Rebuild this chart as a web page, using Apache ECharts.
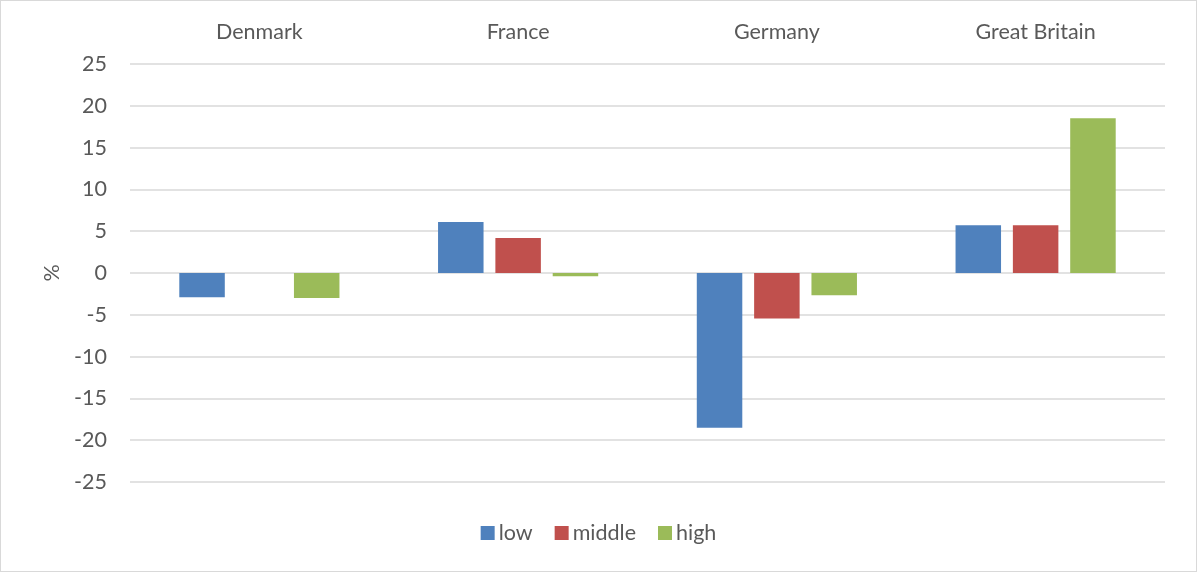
<!DOCTYPE html>
<html><head><meta charset="utf-8">
<script src="https://cdn.jsdelivr.net/npm/echarts@6/dist/echarts.min.js"></script>
<style>
html,body{margin:0;padding:0;background:#fff;}
#wrap{position:absolute;left:0;top:0;width:1195px;height:570px;border:1px solid #d9d9d9;}
#c{width:1197px;height:572px;position:absolute;left:0;top:0;}
</style></head>
<body><div id="wrap"></div><div id="c"></div>
<script>
var categories = ['Denmark', 'France', 'Germany', 'Great Britain'];
var lowValues = [-2.9, 6.1, -18.5, 5.7];
var middleValues = [null, 4.2, -5.45, 5.7];
var highValues = [-3.0, -0.4, -2.65, 18.5];
var seriesNames = ['low', 'middle', 'high'];
var colors = ['#4f81bd', '#c0504d', '#9bbb59'];

var font = 'Lato, Open Sans, sans-serif';
var chart = echarts.init(document.getElementById('c'));
var dataSets = [lowValues, middleValues, highValues];
chart.setOption({
  animation: false,
  textStyle: {fontFamily: font},
  grid: {left: 130, right: 32, top: 64, bottom: 90, containLabel: false},
  legend: {
    bottom: 23, left: 'center', itemWidth: 14, itemHeight: 14, itemGap: 22,
    icon: 'rect',
    textStyle: {fontSize: 21.5, color: '#595959', fontFamily: font, padding: [0,0,0,-1]},
    data: seriesNames
  },
  xAxis: {
    type: 'category', position: 'top', data: categories,
    axisLine: {show: false}, axisTick: {show: false},
    axisLabel: {fontSize: 21.5, color: '#595959', margin: 21, fontFamily: font}
  },
  yAxis: {
    type: 'value', min: -25, max: 25, interval: 5,
    name: '%', nameLocation: 'middle', nameGap: 67, nameRotate: 90,
    nameTextStyle: {fontSize: 21.5, color: '#595959', fontFamily: font},
    axisLine: {show: false}, axisTick: {show: false},
    axisLabel: {fontSize: 21.5, color: '#595959', margin: 23, fontFamily: font},
    splitLine: {lineStyle: {color: '#d9d9d9', width: 1.5}}
  },
  series: seriesNames.map(function(n, i){
    return {name: n, type: 'bar', data: dataSets[i], barWidth: 45.5, barGap: '26%',
      itemStyle: {color: colors[i]}};
  })
});
</script></body></html>
